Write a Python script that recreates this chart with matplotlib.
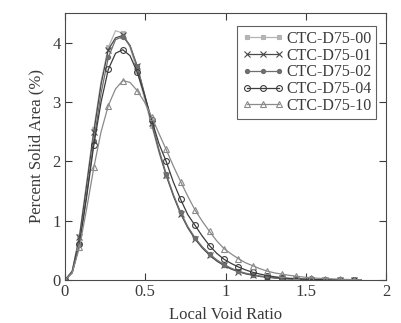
import numpy as np
import matplotlib
matplotlib.use("Agg")
import matplotlib.pyplot as plt

plt.rcParams['font.family'] = ['Liberation Serif', 'DejaVu Serif']

# Local void ratio sample points (step 0.045)
void_ratio = np.round(np.arange(42) * 0.045, 3)

ctc_00 = [0, 0.15, 0.75, 1.65, 2.55, 3.35, 3.92, 4.2, 4.16, 3.92, 3.52, 3.05, 2.6,
          2.15, 1.76, 1.42, 1.12, 0.88, 0.7, 0.55, 0.43, 0.33, 0.25, 0.19, 0.145,
          0.11, 0.085, 0.065, 0.05, 0.038, 0.028, 0.02, 0.015, 0.011, 0.008, 0.006,
          0.005, 0.004, 0.003, 0.002, 0.002, 0.001]
ctc_01 = [0, 0.15, 0.72, 1.6, 2.5, 3.3, 3.88, 4.08, 4.12, 3.95, 3.6, 3.12, 2.64,
          2.18, 1.77, 1.42, 1.12, 0.88, 0.69, 0.54, 0.42, 0.32, 0.245, 0.185, 0.14,
          0.105, 0.08, 0.06, 0.046, 0.035, 0.026, 0.019, 0.014, 0.01, 0.008, 0.006,
          0.004, 0.003, 0.002, 0.002, 0.001, 0.001]
ctc_02 = [0, 0.13, 0.6, 1.45, 2.35, 3.15, 3.75, 4.05, 4.1, 3.95, 3.6, 3.14, 2.66,
          2.2, 1.79, 1.44, 1.14, 0.9, 0.71, 0.56, 0.44, 0.34, 0.26, 0.2, 0.15,
          0.115, 0.088, 0.067, 0.051, 0.039, 0.029, 0.021, 0.016, 0.012, 0.009,
          0.007, 0.005, 0.004, 0.003, 0.002, 0.002, 0.001]
ctc_04 = [0, 0.12, 0.6, 1.4, 2.28, 3.0, 3.55, 3.82, 3.88, 3.78, 3.5, 3.12, 2.7,
          2.3, 2.0, 1.65, 1.36, 1.1, 0.92, 0.74, 0.58, 0.45, 0.35, 0.28, 0.22,
          0.17, 0.13, 0.1, 0.075, 0.055, 0.04, 0.03, 0.022, 0.016, 0.012, 0.009,
          0.007, 0.005, 0.004, 0.003, 0.002, 0.001]
ctc_10 = [0, 0.12, 0.55, 1.2, 1.9, 2.5, 2.94, 3.22, 3.36, 3.33, 3.19, 3.0, 2.75,
          2.47, 2.2, 1.92, 1.66, 1.41, 1.18, 0.99, 0.82, 0.66, 0.53, 0.44, 0.36,
          0.29, 0.24, 0.19, 0.15, 0.12, 0.1, 0.08, 0.065, 0.05, 0.04, 0.03, 0.025,
          0.02, 0.015, 0.01, 0.008, 0.005]

labels = ['CTC-D75-00', 'CTC-D75-01', 'CTC-D75-02', 'CTC-D75-04', 'CTC-D75-10']
x_ticks = [0, 0.5, 1, 1.5, 2]
x_tick_labels = ['0', '0.5', '1', '1.5', '2']
y_ticks = [0, 1, 2, 3, 4]
y_tick_labels = ['0', '1', '2', '3', '4']

text_color = '#3a3a3a'

fig = plt.figure(figsize=(4.01, 3.23), dpi=100)
ax = fig.add_axes([0.162, 0.133, 0.801, 0.827])

# Series styles: colour, marker, marker face, marker size
styles = [
    ('#b4b4b4', 's', '#b4b4b4', 3),
    ('#4a4a4a', 'x', '#4a4a4a', 4.5),
    ('#6e6e6e', 'o', '#6e6e6e', 3),
    ('#3c3c3c', 'o', 'none', 4.2),
    ('#8a8a8a', '^', 'none', 4.2),
]
series = [ctc_00, ctc_01, ctc_02, ctc_04, ctc_10]

for vals, lab, (col, mk, mfc, ms) in zip(series, labels, styles):
    ax.plot(void_ratio, vals, color=col, lw=0.9, marker=mk, markersize=ms,
            markerfacecolor=mfc, markeredgecolor=col, markeredgewidth=0.8,
            markevery=2, label=lab)

ax.set_xlim(0, 2)
ax.set_ylim(0, 4.5)
ax.set_xticks(x_ticks)
ax.set_xticklabels(x_tick_labels)
ax.set_yticks(y_ticks)
ax.set_yticklabels(y_tick_labels)
ax.tick_params(direction='in', top=True, right=True, length=5, width=0.8,
               labelsize=12, colors=text_color, pad=3)
for sp in ax.spines.values():
    sp.set_color('#4a4a4a')
    sp.set_linewidth(0.8)

ax.set_xlabel('Local Void Ratio', fontsize=12, color=text_color, labelpad=5)
ax.set_ylabel('Percent Solid Area (%)', fontsize=12, color=text_color, labelpad=6)

leg = ax.legend(loc='upper right', bbox_to_anchor=(0.969, 0.951), fontsize=11.5,
                frameon=True, fancybox=False, numpoints=3, handlelength=2.6,
                handletextpad=0.15, borderpad=0.3, labelspacing=0.05,
                borderaxespad=0.0)
leg.get_frame().set_edgecolor('#3a3a3a')
leg.get_frame().set_linewidth(0.8)
for t in leg.get_texts():
    t.set_color(text_color)

plt.savefig('out.png', dpi=100)
